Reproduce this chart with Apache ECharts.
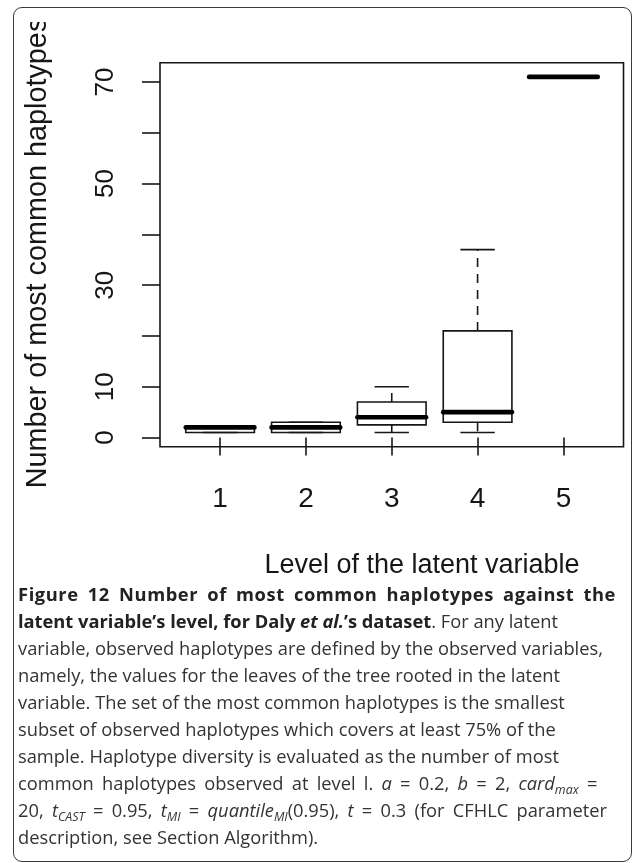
<!DOCTYPE html>
<html><head><meta charset="utf-8">
<script src="https://cdn.jsdelivr.net/npm/echarts@6/dist/echarts.min.js"></script>
<style>
html,body{margin:0;padding:0;background:#fff;width:632px;height:863px;overflow:hidden;position:relative;}
#frame{position:absolute;left:13px;top:7px;width:619px;height:855px;border:1.3px solid #3a3a3a;border-radius:9px;box-sizing:border-box;}
#chart{position:absolute;left:0;top:22px;width:632px;height:600px;}
#caption{position:absolute;left:18px;top:579.5px;width:598px;font-family:"Open Sans",sans-serif;font-size:18.3px;color:#333;}
#caption div{height:27px;line-height:27px;white-space:nowrap;}
#caption div.j{text-align:justify;text-align-last:justify;letter-spacing:0.6px;}
#caption b{color:#222;font-weight:700;}
#caption sub{font-size:0.68em;vertical-align:-0.3em;line-height:0;}
#caption div.w{word-spacing:3.5px;}
</style>
</head><body>
<div id="frame"></div>
<div id="chart"></div>
<div id="caption">
<div class="j"><b>Figure 12 Number of most common haplotypes against the</b></div>
<div><b>latent variable’s level, for Daly <i>et al.</i>’s dataset</b>. For any latent</div>
<div>variable, observed haplotypes are defined by the observed variables,</div>
<div>namely, the values for the leaves of the tree rooted in the latent</div>
<div>variable. The set of the most common haplotypes is the smallest</div>
<div>subset of observed haplotypes which covers at least 75% of the</div>
<div>sample. Haplotype diversity is evaluated as the number of most</div>
<div class="w">common haplotypes observed at level l. <i>a</i> = 0.2, <i>b</i> = 2, <i>card</i><sub><i>max</i></sub> =</div>
<div class="w">20, <i>t</i><sub><i>CAST</i></sub> = 0.95, <i>t</i><sub><i>MI</i></sub> = <i>quantile</i><sub><i>MI</i></sub>(0.95), <i>t</i> = 0.3 (for CFHLC parameter</div>
<div>description, see Section Algorithm).</div>
</div>
<script>
// ---- data ----
const levels = ['1', '2', '3', '4', '5'];
const whiskerLow = [1, 1, 1, 1, 71];
const lowerQuartile = [1, 1, 2.5, 3, 71];
const medians = [2, 2, 4, 5, 71];
const upperQuartile = [2, 3, 7, 21, 71];
const whiskerHigh = [2, 3, 10, 37, 71];
const xTickValues = [1, 2, 3, 4, 5];
const yTickValues = [0, 10, 20, 30, 40, 50, 60, 70];
const yTickLabelValues = [0, 10, 30, 50, 70];
const xTitle = 'Level of the latent variable';
const yTitle = 'Number of most common haplotypes';

const OFFSET_TOP = 22;
const ink = '#161616';
const fontFam = '"Liberation Sans", Arial, sans-serif';

const boxData = levels.map((l, i) => [i + 1, whiskerLow[i], lowerQuartile[i], medians[i], upperQuartile[i], whiskerHigh[i]]);

function renderBox(params, api) {
  const x = api.value(0);
  const lo = api.value(1), q1 = api.value(2), med = api.value(3), q3 = api.value(4), hi = api.value(5);
  const half = 0.4, cap = 0.2;
  const children = [];
  const thin = 1.6;
  const a = api.coord([x - half, q3]);
  const b = api.coord([x + half, q1]);
  children.push({type: 'rect', shape: {x: a[0], y: a[1], width: b[0] - a[0], height: b[1] - a[1]},
    style: {fill: 'none', stroke: ink, lineWidth: thin}});
  if (hi > q3) {
    const p1 = api.coord([x, q3]), p2 = api.coord([x, hi]);
    children.push({type: 'line', shape: {x1: p1[0], y1: p1[1], x2: p2[0], y2: p2[1]},
      style: {stroke: ink, lineWidth: thin, lineDash: [9, 7]}});
  }
  if (lo < q1) {
    const p1 = api.coord([x, q1]), p2 = api.coord([x, lo]);
    children.push({type: 'line', shape: {x1: p1[0], y1: p1[1], x2: p2[0], y2: p2[1]},
      style: {stroke: ink, lineWidth: thin, lineDash: [9, 7]}});
  }
  [lo, hi].forEach(v => {
    const s1 = api.coord([x - cap, v]), s2 = api.coord([x + cap, v]);
    children.push({type: 'line', shape: {x1: s1[0], y1: s1[1], x2: s2[0], y2: s2[1]},
      style: {stroke: ink, lineWidth: thin}});
  });
  const m1 = api.coord([x - half, med]), m2 = api.coord([x + half, med]);
  children.push({type: 'line', shape: {x1: m1[0], y1: m1[1], x2: m2[0], y2: m2[1]},
    style: {stroke: '#000', lineWidth: 4.6, lineCap: 'round'}});
  return {type: 'group', children};
}

const chart = echarts.init(document.getElementById('chart'));
chart.setOption({
  animation: false,
  grid: {left: 160, right: 8.5, top: 62.7 - OFFSET_TOP, bottom: 600 - (446.7 - OFFSET_TOP),
    show: true, borderColor: ink, borderWidth: 1.6, backgroundColor: 'transparent'},
  xAxis: {
    type: 'value', min: 0.3, max: 5.7,
    axisLine: {show: false},
    splitLine: {show: false},
    axisTick: {show: true, customValues: xTickValues, length: 18, lineStyle: {color: ink, width: 1.6}},
    axisLabel: {customValues: xTickValues, formatter: v => levels[Math.round(v) - 1],
      fontSize: 28, fontFamily: fontFam, color: ink, margin: 39}
  },
  yAxis: {
    type: 'value', min: -1.8, max: 73.8,
    axisLine: {show: false},
    splitLine: {show: false},
    axisTick: {show: true, customValues: yTickValues, length: 18, lineStyle: {color: ink, width: 1.6}},
    axisLabel: {customValues: yTickLabelValues, rotate: 90, fontSize: 26, fontFamily: fontFam,
      color: ink, margin: 41}
  },
  graphic: [
    {type: 'text', x: 38, y: 253 - OFFSET_TOP, rotation: Math.PI / 2,
      style: {text: yTitle, fontSize: 28.8, fontFamily: fontFam, fill: ink,
        textAlign: 'center', textVerticalAlign: 'middle', align: 'center', verticalAlign: 'middle'}},
    {type: 'text', x: 422, y: 566 - OFFSET_TOP,
      style: {text: xTitle, fontSize: 27, fontFamily: fontFam, fill: ink,
        textAlign: 'center', textVerticalAlign: 'middle', align: 'center', verticalAlign: 'middle'}}
  ],
  series: [{
    type: 'custom',
    renderItem: renderBox,
    encode: {x: 0, y: [1, 2, 3, 4, 5]},
    data: boxData,
    clip: false
  }]
});
</script>
</body></html>
